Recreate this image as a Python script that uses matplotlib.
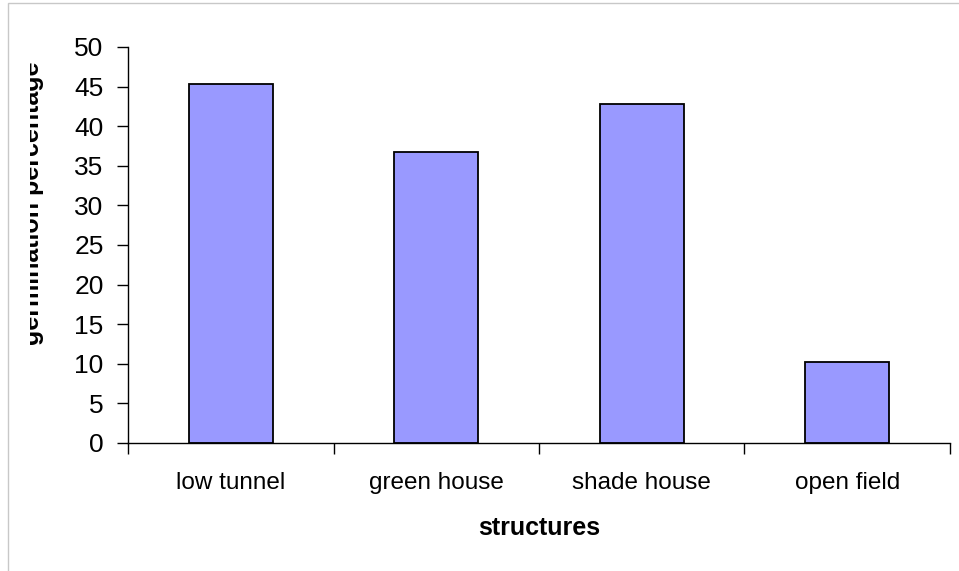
import matplotlib
matplotlib.use("Agg")
import matplotlib.pyplot as plt
from matplotlib.patches import Rectangle
from matplotlib.transforms import Bbox

structures = ["low tunnel", "green house", "shade house", "open field"]
germination = [45.3, 36.7, 42.8, 10.2]
y_ticks = [0, 5, 10, 15, 20, 25, 30, 35, 40, 45, 50]

plt.rcParams["font.family"] = ["Liberation Sans", "DejaVu Sans"]

fig = plt.figure(figsize=(9.59, 5.71), dpi=100)
ax = fig.add_axes([128 / 959, 128 / 571, 822 / 959, 396 / 571])

pos = range(len(structures))
ax.bar(pos, germination, width=0.41, color="#9999ff", edgecolor="black", linewidth=1.3)

ax.set_xlim(-0.5, len(structures) - 0.5)
ax.set_ylim(0, 50)
ax.set_yticks(y_ticks)
ax.tick_params(axis="y", labelsize=19, length=8, width=1, pad=9.5, direction="out")

# boundaries between categories carry the tick marks, names sit in between
ax.set_xticks([i - 0.5 for i in range(len(structures) + 1)])
ax.set_xticklabels([])
ax.set_xticks(list(pos), minor=True)
ax.set_xticklabels(structures, minor=True)
ax.tick_params(axis="x", which="major", length=8, width=1, direction="out")
ax.tick_params(axis="x", which="minor", length=0, labelsize=17.5, pad=21)

for side in ["top", "right"]:
    ax.spines[side].set_visible(False)
for side in ["left", "bottom"]:
    ax.spines[side].set_linewidth(1)

fig.text(539 / 959, 36 / 571, "structures", ha="center", va="baseline",
         fontsize=18, fontweight="bold")

# y label is cut off on its left side in the original
lab = fig.text(44 / 959, (571 - 203) / 571, "germination percentage", rotation=90,
               ha="right", va="center", fontsize=18, fontweight="bold")
lab.set_clip_box(Bbox.from_extents(30, 0, 959, 571))
lab.set_clip_on(True)

# thin grey frame around the chart
fig.patches.append(Rectangle((8 / 959, -0.1), 1.2, (571 - 3) / 571 + 0.1,
                             transform=fig.transFigure, fill=False,
                             edgecolor="#c8c8c8", linewidth=1))

fig.savefig("out.png", dpi=100)
